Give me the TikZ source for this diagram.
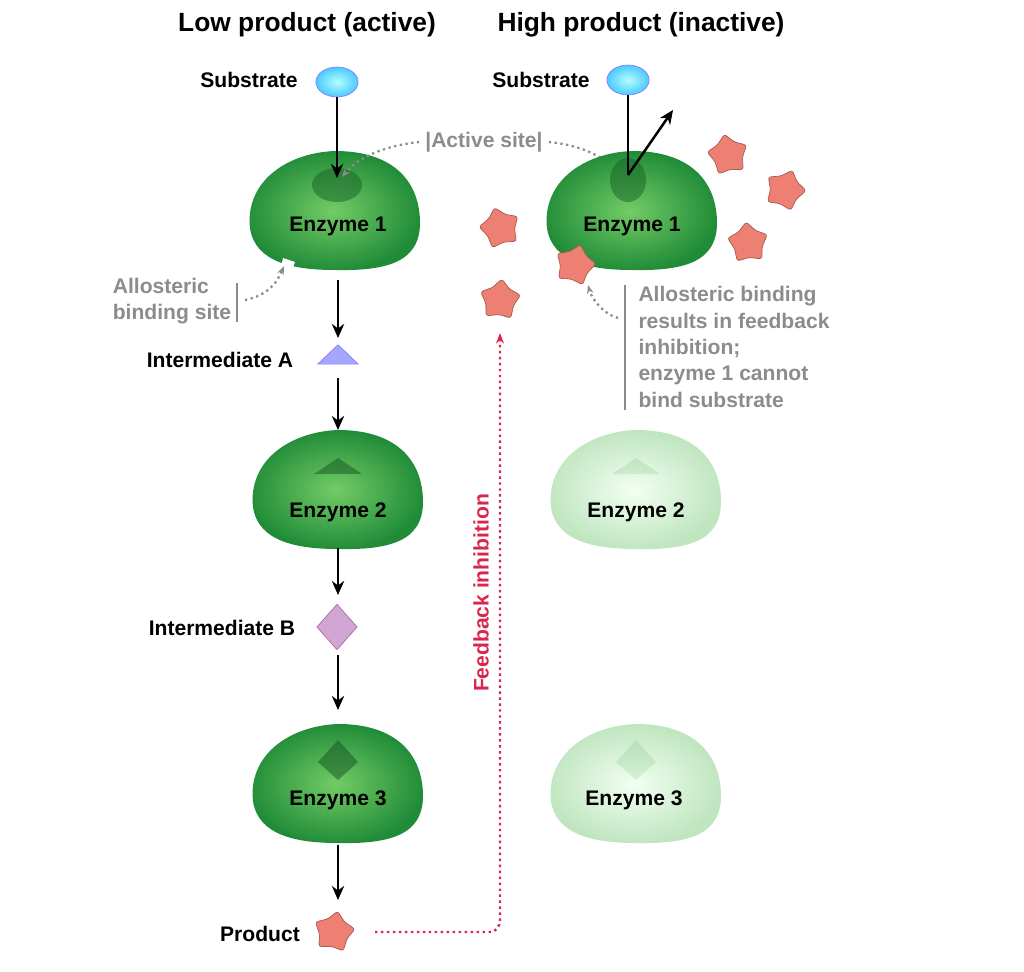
\documentclass[tikz,border=0pt]{standalone}
\usepackage{fontspec}
\setmainfont{Liberation Sans}
\usetikzlibrary{shapes.geometric,arrows.meta}
\definecolor{egreen}{rgb}{0.13,0.55,0.22}
\definecolor{lgreen}{rgb}{0.45,0.80,0.40}
\definecolor{prod}{rgb}{0.93,0.50,0.45}
\definecolor{txtgray}{rgb}{0.55,0.55,0.55}
\definecolor{fbred}{rgb}{0.85,0.15,0.30}
\tikzset{
  lbl/.style={font=\bfseries\fontsize{12}{14}\selectfont},
  glbl/.style={font=\bfseries\fontsize{12}{15}\selectfont,text=txtgray,align=left},
  flow/.style={-{Stealth[length=8pt,width=7pt]},line width=1.4pt},
  enz/.style={inner color=lgreen,outer color=egreen,draw=none},
  penz/.style={inner color=green!5,outer color=green!60!black!25,draw=none},
  pstar/.style={star,star points=5,star point ratio=1.45,minimum size=24pt,fill=prod,draw=prod!70!black,line width=0.4pt,rounded corners=1.5pt,inner sep=0pt},
  subs/.style={ellipse,minimum width=24pt,minimum height=17pt,inner sep=0pt,inner color=cyan!30,outer color=cyan!70!blue!70,draw=blue!50},
  dotg/.style={txtgray,dotted,line width=1.3pt,-{Stealth[length=5pt]}}
}
\newcommand{\blob}[3]{% style, x, y
  \path[#1] (#2-85,#3+15) .. controls (#2-90,#3-30) and (#2-50,#3-60) .. (#2,#3-62)
    .. controls (#2+60,#3-62) and (#2+85,#3-30) .. (#2+85,#3+10)
    .. controls (#2+85,#3+50) and (#2+50,#3+58) .. (#2,#3+57)
    .. controls (#2-40,#3+57) and (#2-80,#3+50) .. cycle;}
\begin{document}
\begin{tikzpicture}[x=0.02cm,y=-0.02cm]
\useasboundingbox (0,0) rectangle (1024,972);
% titles
\node[font=\bfseries\fontsize{15}{18}\selectfont] (t1) at (307,25) {Low product (active)};
\node[font=\bfseries\fontsize{15}{18}\selectfont] (t2) at (641,25) {High product (inactive)};
% left column
\node[lbl] (s1) at (249,80) {Substrate};
\node[subs] (sub1) at (337,82) {};
\blob{enz}{335}{213}
\path[fill=egreen!70!black,opacity=0.5] (337,185) ellipse (25 and 17);
\fill[white] (283,258) -- (295,262) -- (290,275) -- (280,272) -- cycle;
\node[lbl] (e1) at (338,226) {Enzyme 1};
\draw[flow] (sub1) -- (337,178);
\node[glbl] (as) at (484,142) {|Active site|};
\draw[dotg] (as.west) .. controls (390,145) and (360,155) .. (342,177);
\draw[dotg] (as.east) .. controls (580,145) and (600,155) .. (625,175);
\node[glbl] (abs) at (172,301) {Allosteric\\binding site};
\draw[txtgray,line width=1pt] (237,283) -- (237,322);
\draw[dotg] (245,300) .. controls (270,295) and (278,280) .. (284,266);
\node[coordinate] (a1) at (338,280) {};
\node[coordinate] (a1e) at (338,338) {};
\draw[flow] (a1) -- (a1e);
\node[lbl] (ia) at (220,360) {Intermediate A};
\node[isosceles triangle,isosceles triangle apex angle=120,isosceles triangle stretches,shape border rotate=90,minimum width=23pt,minimum height=11pt,inner sep=0pt,fill=blue!35,draw=blue!50] (tria) at (338,356) {};
\node[coordinate] (a2) at (338,378) {};
\node[coordinate] (a2e) at (338,430) {};
\draw[flow] (a2) -- (a2e);
\blob{enz}{338}{492}
\fill[egreen!60!black,opacity=0.5] (314,474) -- (338,458) -- (362,474) -- cycle;
\node[lbl] (e2) at (338,512) {Enzyme 2};
\node[coordinate] (a3) at (338,548) {};
\node[coordinate] (a3e) at (338,595) {};
\draw[flow] (a3) -- (a3e);
\node[lbl] (ib) at (222,628) {Intermediate B};
\node[diamond,minimum width=23pt,minimum height=26pt,inner sep=0pt,fill=violet!35,draw=violet!60] (dia) at (337,627) {};
\node[coordinate] (a4) at (338,655) {};
\node[coordinate] (a4e) at (338,710) {};
\draw[flow] (a4) -- (a4e);
\blob{enz}{338}{786}
\fill[egreen!60!black,opacity=0.5] (338,740) -- (358,762) -- (338,780) -- (318,762) -- cycle;
\node[lbl] (e3) at (338,800) {Enzyme 3};
\node[coordinate] (a5) at (338,845) {};
\node[coordinate] (a5e) at (338,900) {};
\draw[flow] (a5) -- (a5e);
\node[lbl] (pr) at (260,934) {Product};
\node[pstar,rotate=-10] (p0) at (334,932) {};
% feedback
\node[coordinate] (fb1) at (375,932) {};
\draw[fbred,dotted,line width=1.4pt,-{Stealth[length=6pt]}] (fb1) -- (490,932) to[out=0,in=-90] (500,920) -- (500,333);
\node[font=\bfseries\fontsize{12}{14}\selectfont,text=fbred,rotate=90] (fbt) at (481,593) {Feedback inhibition};
% right column
\node[lbl] (s2) at (541,80) {Substrate};
\node[subs] (sub2) at (628,80) {};
\blob{enz}{632}{213}
\path[fill=egreen!70!black,opacity=0.5] (628,180) ellipse (18 and 22);
\node[lbl] (e1r) at (632,226) {Enzyme 1};
\node[coordinate] (r1m) at (628,175) {};
\node[coordinate] (r1e) at (673,110) {};
\draw[line width=1.4pt] (sub2) -- (r1m);
\draw[flow] (r1m) -- (r1e);
\node[pstar,rotate=15] (pa) at (500,228) {};
\node[pstar,rotate=-5] (pb) at (500,300) {};
\node[pstar,rotate=10] (pc) at (728,155) {};
\node[pstar,rotate=-20] (pd) at (785,190) {};
\node[pstar,rotate=5] (pe) at (748,243) {};
\node[pstar,rotate=-15] (pf) at (575,265) {};
\node[glbl] (abr) at (734,347) {Allosteric binding\\results in feedback\\inhibition;\\enzyme 1 cannot\\bind substrate};
\draw[txtgray,line width=1pt] (625,285) -- (625,410);
\draw[dotg] (618,318) .. controls (605,315) and (592,300) .. (588,285);
\blob{penz}{636}{492}
\fill[green!50!black,opacity=0.1] (612,474) -- (636,458) -- (660,474) -- cycle;
\node[lbl] (e2r) at (636,512) {Enzyme 2};
\blob{penz}{636}{786}
\fill[green!50!black,opacity=0.1] (636,740) -- (656,762) -- (636,780) -- (616,762) -- cycle;
\node[lbl] (e3r) at (634,800) {Enzyme 3};
\end{tikzpicture}
\end{document}
